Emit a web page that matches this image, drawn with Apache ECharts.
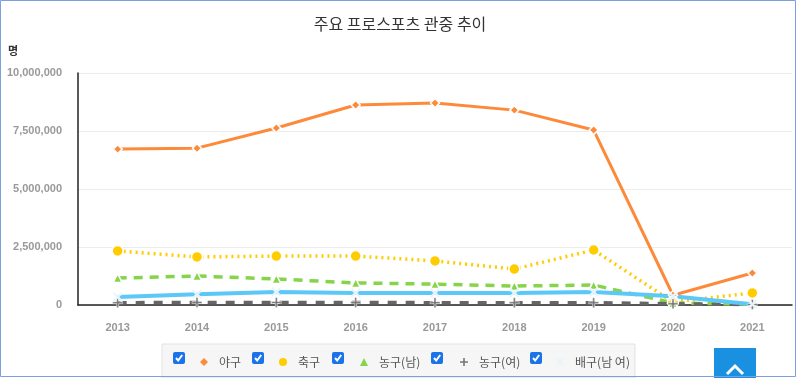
<!DOCTYPE html>
<html>
<head>
<meta charset="utf-8">
<script src="https://cdn.jsdelivr.net/npm/echarts@6/dist/echarts.min.js"></script>
<style>
  html, body { margin: 0; padding: 0; background: #fff; }
  #sportsChart { width: 800px; height: 378px; }
</style>
</head>
<body>
<div id="sportsChart"></div>
<script>
const years = ["2013", "2014", "2015", "2016", "2017", "2018", "2019", "2020", "2021"];
const baseball = [6720000, 6760000, 7630000, 8620000, 8710000, 8400000, 7540000, 420000, 1380000];
const soccer = [2330000, 2070000, 2110000, 2110000, 1900000, 1550000, 2370000, 130000, 520000];
const basketMen = [1160000, 1250000, 1120000, 950000, 900000, 820000, 860000, 90000, 30000];
const basketWomen = [100000, 110000, 110000, 110000, 100000, 100000, 100000, 50000, 20000];
const volleyball = [340000, 460000, 560000, 520000, 520000, 520000, 560000, 380000, 30000];
const yTicks = [0, 2500000, 5000000, 7500000, 10000000];

const plusPath = "path://M4,0H6V4H10V6H6V10H4V6H0V4H4Z";
const crossPath = "path://M1.4,0L5,3.6L8.6,0L10,1.4L6.4,5L10,8.6L8.6,10L5,6.4L1.4,10L0,8.6L3.6,5L0,1.4Z";

const seriesDefs = [
  { name: "야구", data: baseball, color: "#fd8a3a", markColor: "#fd8a3a", symbol: "diamond", size: 9, dash: "solid", width: 3, border: 1.5 },
  { name: "축구", data: soccer, color: "#ffcc00", markColor: "#ffcc00", symbol: "circle", size: 11, dash: [2, 4], width: 3.5, border: 1.5 },
  { name: "농구(남)", data: basketMen, color: "#86d44a", markColor: "#86d44a", symbol: "triangle", size: 9, dash: [9, 7], width: 3.5, border: 1.5 },
  { name: "농구(여)", data: basketWomen, color: "#666666", markColor: "#777777", symbol: plusPath, size: 10, dash: [9, 9], width: 3.5, border: 0.5 },
  { name: "배구(남 여)", data: volleyball, color: "#5bc8f7", markColor: "#e6f3fb", symbol: crossPath, size: 10, dash: "solid", width: 4, border: 0.5 },
];

// positions of the checkbox legend row
const legendLeft = [195, 274, 355, 455, 551];
const checkLeft = [173, 252, 332, 431, 530];

let myChart = echarts.init(document.getElementById("sportsChart"));
myChart.setOption({
  animation: false,
  textStyle: { fontFamily: "'Noto Sans CJK KR', 'Liberation Sans', sans-serif" },
  title: {
    text: "주요 프로스포츠 관중 추이",
    left: "center",
    top: 11,
    textStyle: { fontSize: 16, fontWeight: "normal", color: "#333" },
  },
  grid: { left: 78, right: 8, top: 73, bottom: 73 },
  legend: seriesDefs.map((s, i) => ({
    data: [
      {
        name: s.name,
        icon: s.symbol,
        itemStyle: { color: s.markColor, borderWidth: 0 },
      },
    ],
    left: legendLeft[i],
    top: 351,
    itemWidth: 8,
    itemHeight: 8,
    itemGap: 0,
    textStyle: { color: "#555", fontSize: 12, padding: [0, 0, 0, 6] },
    selectedMode: false,
  })),
  xAxis: {
    type: "category",
    data: years,
    boundaryGap: true,
    axisLine: { lineStyle: { color: "#222", width: 1.5 } },
    axisTick: { show: false },
    axisLabel: {
      color: "#999",
      fontWeight: "bold",
      fontSize: 11,
      margin: 17,
      fontFamily: "'Liberation Sans', sans-serif",
    },
  },
  yAxis: {
    type: "value",
    min: yTicks[0],
    max: yTicks[yTicks.length - 1],
    interval: yTicks[1] - yTicks[0],
    axisLine: { show: true, lineStyle: { color: "#222", width: 1.5 } },
    axisTick: { show: false },
    axisLabel: {
      color: "#999",
      fontWeight: "bold",
      fontSize: 11,
      margin: 16,
      fontFamily: "'Liberation Sans', sans-serif",
      formatter: (v) => v.toLocaleString("en-US"),
    },
    splitLine: { lineStyle: { color: "#ececec" } },
  },
  series: seriesDefs.map((s) => ({
    name: s.name,
    type: "line",
    data: s.data,
    symbol: s.symbol,
    symbolSize: s.size,
    showAllSymbol: true,
    lineStyle: { color: s.color, width: s.width, type: s.dash },
    itemStyle: { color: s.markColor, borderColor: "#fff", borderWidth: s.border },
    emphasis: { disabled: true },
  })),
  graphic: [
    {
      type: "rect",
      shape: { x: 0.5, y: 0.5, width: 795, height: 376 },
      style: { fill: "none", stroke: "#7d9fe0", lineWidth: 1 },
      z: 100,
    },
    {
      type: "text",
      left: 8,
      top: 45,
      style: { text: "명", fill: "#333", font: "bold 11px 'Noto Sans CJK KR'" },
    },
    {
      type: "rect",
      shape: { x: 162, y: 344, width: 473, height: 34 },
      style: { fill: "#f6f6f6", stroke: "#e2e2e2", lineWidth: 1 },
      z: -10,
    },
    ...checkLeft.map((x) => ({
      type: "group",
      children: [
        {
          type: "rect",
          shape: { x: x, y: 352, width: 12, height: 12, r: 2 },
          style: { fill: "#1a73e8" },
        },
        {
          type: "polyline",
          shape: { points: [[x + 3, 358], [x + 5.2, 360.5], [x + 9.2, 355]] },
          style: { stroke: "#fff", lineWidth: 2, fill: "none" },
        },
      ],
    })),
    {
      type: "rect",
      shape: { x: 714, y: 348, width: 42, height: 30 },
      style: { fill: "#1a90e0" },
    },
    {
      type: "polyline",
      shape: { points: [[727, 374], [735, 366], [743, 374]] },
      style: { stroke: "#fff", lineWidth: 3, fill: "none" },
    },
  ],
});
</script>
</body>
</html>
